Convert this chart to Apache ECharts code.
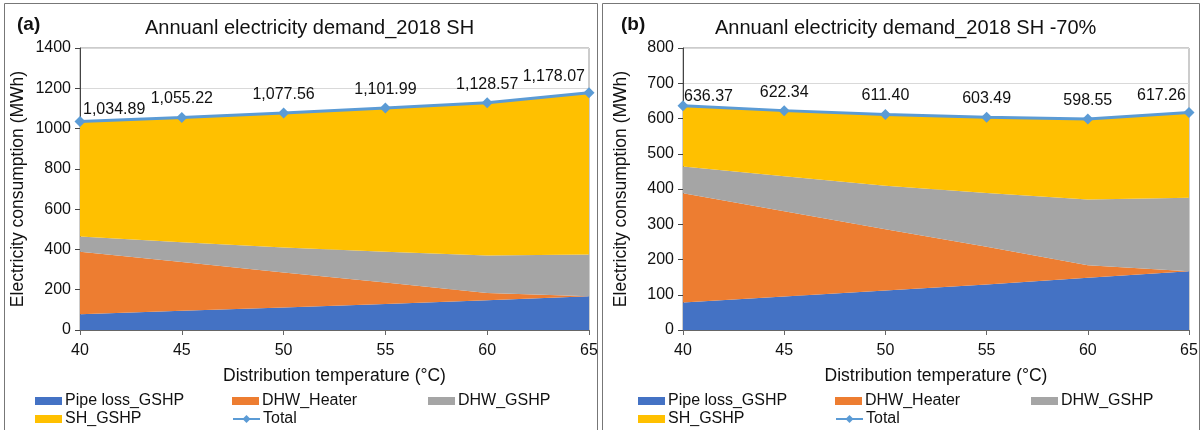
<!DOCTYPE html>
<html>
<head>
<meta charset="utf-8">
<title>Annual electricity demand</title>
<script src="https://cdn.jsdelivr.net/npm/echarts@6/dist/echarts.min.js"></script>
<style>
  html, body { margin: 0; padding: 0; background: #fff; }
  #chart { width: 1203px; height: 430px; }
</style>
</head>
<body>
<div id="chart"></div>
<script>
// distribution temperatures (°C)
var temps = ['40', '45', '50', '55', '60', '65'];

// shared components (MWh)
var pipeLoss = [78, 95, 112, 129, 148, 167];
var dhwHeater = [310, 242, 174, 107, 36, 0];
var dhwGshp = [76, 99, 123, 153, 186, 208];

// (a) 2018 SH
var shGshpA = [570.89, 619.22, 668.56, 712.99, 758.57, 803.07];
var totalA = [1034.89, 1055.22, 1077.56, 1101.99, 1128.57, 1178.07];

// (b) 2018 SH -70%
var shGshpB = [172.37, 186.34, 202.40, 214.49, 228.55, 242.26];
var totalB = [636.37, 622.34, 611.40, 603.49, 598.55, 617.26];

var FONT = 'Liberation Sans, Arial, sans-serif';
var colors = {
    pipe: '#4472C4',
    heater: '#ED7D31',
    dhw: '#A5A5A5',
    sh: '#FFC000',
    total: '#5B9BD5'
};

function fmt(v) {
    var s = v.toFixed(2).split('.');
    s[0] = s[0].replace(/\B(?=(\d{3})+(?!\d))/g, ',');
    return s.join('.');
}

function areaSeries(name, data, idx, color) {
    return {
        name: name,
        type: 'line',
        stack: 'st' + idx,
        xAxisIndex: idx,
        yAxisIndex: idx,
        data: data,
        symbol: 'none',
        lineStyle: { width: 0 },
        itemStyle: { color: color },
        areaStyle: { color: color, opacity: 1 },
        z: 2
    };
}

// first / last labels are pushed inside the plot like Excel does
function totalSeries(data, idx, firstOff, lastOff) {
    var last = data.length - 1;
    return {
        name: 'Total',
        type: 'line',
        xAxisIndex: idx,
        yAxisIndex: idx,
        data: data.map(function (v, i) {
            var item = { value: v };
            if (i === 0) item.label = { align: 'left', offset: firstOff };
            if (i === last) item.label = { align: 'right', offset: lastOff };
            return item;
        }),
        symbol: 'diamond',
        symbolSize: 11,
        lineStyle: { color: colors.total, width: 3 },
        itemStyle: { color: colors.total },
        label: {
            show: true,
            position: 'top',
            distance: 5,
            color: '#111',
            fontSize: 16,
            fontFamily: FONT,
            formatter: function (p) { return fmt(p.value); }
        },
        z: 5
    };
}

function xAxis(idx) {
    return {
        type: 'category',
        gridIndex: idx,
        data: temps,
        boundaryGap: false,
        name: 'Distribution temperature (°C)',
        nameLocation: 'middle',
        nameGap: 37,
        nameTextStyle: { fontSize: 17.5, color: '#111', fontFamily: FONT },
        axisLine: { lineStyle: { color: '#666' } },
        axisTick: { show: true, alignWithLabel: true, lineStyle: { color: '#666' } },
        axisLabel: { fontSize: 16, color: '#111', fontFamily: FONT, margin: 13 }
    };
}

function yAxis(idx, max, step) {
    return {
        type: 'value',
        gridIndex: idx,
        min: 0,
        max: max,
        interval: step,
        name: 'Electricity consumption (MWh)',
        nameLocation: 'middle',
        nameGap: 53,
        nameTextStyle: { fontSize: 17.5, color: '#111', fontFamily: FONT },
        axisLine: { show: true, lineStyle: { color: '#444' } },
        axisTick: { show: true, lineStyle: { color: '#444' } },
        axisLabel: {
            fontSize: 16, color: '#111', fontFamily: FONT, margin: 9,
            formatter: function (v) { return String(v); }
        },
        splitLine: { show: true, lineStyle: { color: '#d9d9d9' } }
    };
}

function legendItem(name, left, top, isLine) {
    return {
        left: left,
        top: top,
        data: [isLine ? name : { name: name, icon: 'rect' }],
        itemGap: 0,
        itemWidth: 27,
        itemHeight: isLine ? 10 : 8,
        padding: 0,
        textStyle: { fontSize: 16, color: '#111', fontFamily: FONT, padding: [0, 0, 0, -2] },
        selectedMode: false
    };
}

function legendSet(x0) {
    return [
        legendItem('Pipe loss_GSHP', x0, 393),
        legendItem('DHW_Heater', x0 + 197, 393),
        legendItem('DHW_GSHP', x0 + 393, 393),
        legendItem('SH_GSHP', x0, 411),
        legendItem('Total', x0 + 197, 411, true)
    ];
}

var chart = echarts.init(document.getElementById('chart'));

var option = {
    animation: false,
    backgroundColor: '#fff',
    title: [
        { text: '(a)', left: 12, top: 10, textStyle: { fontSize: 19, fontWeight: 'bold', color: '#111', fontFamily: FONT } },
        { text: 'Annuanl electricity demand_2018 SH', left: 140, top: 13, textStyle: { fontSize: 20, fontWeight: 'normal', color: '#111', fontFamily: FONT } },
        { text: '(b)', left: 616, top: 10, textStyle: { fontSize: 19, fontWeight: 'bold', color: '#111', fontFamily: FONT } },
        { text: 'Annuanl electricity demand_2018 SH -70%', left: 710, top: 13, textStyle: { fontSize: 20, fontWeight: 'normal', color: '#111', fontFamily: FONT } }
    ],
    legend: legendSet(35).concat(legendSet(638)),
    grid: [
        { left: 80, right: 614, top: 48, bottom: 100, show: true, borderColor: '#999', borderWidth: 1 },
        { left: 683, right: 14, top: 48, bottom: 100, show: true, borderColor: '#999', borderWidth: 1 }
    ],
    xAxis: [xAxis(0), xAxis(1)],
    yAxis: [yAxis(0, 1400, 200), yAxis(1, 800, 100)],
    series: [
        areaSeries('Pipe loss_GSHP', pipeLoss, 0, colors.pipe),
        areaSeries('DHW_Heater', dhwHeater, 0, colors.heater),
        areaSeries('DHW_GSHP', dhwGshp, 0, colors.dhw),
        areaSeries('SH_GSHP', shGshpA, 0, colors.sh),
        totalSeries(totalA, 0, [3, 7], [-4, 2]),
        areaSeries('Pipe loss_GSHP', pipeLoss, 1, colors.pipe),
        areaSeries('DHW_Heater', dhwHeater, 1, colors.heater),
        areaSeries('DHW_GSHP', dhwGshp, 1, colors.dhw),
        areaSeries('SH_GSHP', shGshpB, 1, colors.sh),
        totalSeries(totalB, 1, [1, 9], [-3, 2])
    ],
    graphic: [
        { type: 'rect', shape: { x: 4.5, y: 3.5, width: 593, height: 440 }, style: { fill: 'none', stroke: '#777', lineWidth: 1 }, silent: true },
        { type: 'rect', shape: { x: 602.5, y: 3.5, width: 597, height: 440 }, style: { fill: 'none', stroke: '#777', lineWidth: 1 }, silent: true }
    ]
};

chart.setOption(option);
</script>
</body>
</html>
